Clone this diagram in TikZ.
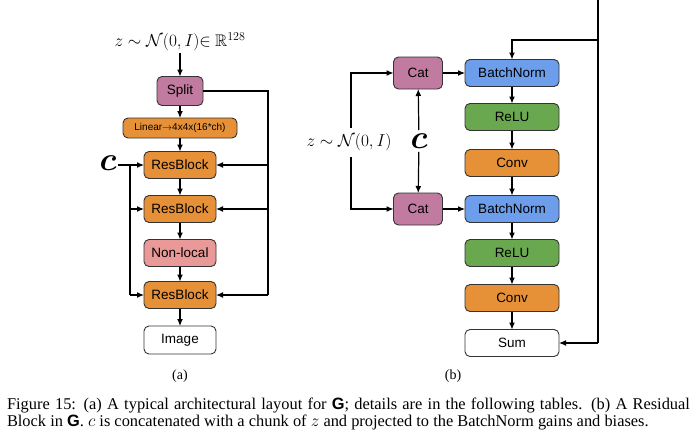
\documentclass[tikz,border=0pt]{standalone}
\usepackage{amsmath}
\usepackage{amsfonts}
\usepackage{fontspec}
\setmainfont{Liberation Serif}
\setsansfont{Liberation Sans}
\usetikzlibrary{shapes, arrows.meta}

\definecolor{catpink}{HTML}{C27BA0}
\definecolor{resorange}{HTML}{E69138}
\definecolor{nlred}{HTML}{EA9999}
\definecolor{bnblue}{HTML}{6D9EEB}
\definecolor{relugreen}{HTML}{6AA84F}
\definecolor{edgegray}{HTML}{333333}

\begin{document}
\begin{tikzpicture}[x=1pt, y=-1pt, line width=1.2pt, >={Latex[length=7pt,width=6pt]},
        blk/.style = {draw=edgegray, line width=0.9pt, rounded corners=5pt, inner sep=0pt, outer sep=0pt,
                      font=\sffamily\fontsize{13.5}{13.5}\selectfont, minimum width=72pt, minimum height=27pt},
        wide/.style = {blk, minimum width=94pt},
        lbl/.style = {inner sep=1pt}]
                \useasboundingbox (0, 0) rectangle (695, 440);

                % (a) generator layout
                \node[lbl] at (180, 42) (zin) {\fontsize{16.8}{16.8}\selectfont$z \sim \mathcal{N}(0,I) {\in}\ \mathbb{R}^{128}$};
                \node[blk, fill=catpink, minimum width=46pt, minimum height=29pt] at (180, 91) (split) {Split};
                \node[blk, fill=resorange, minimum width=114pt, minimum height=20pt, font=\sffamily\fontsize{10}{10}\selectfont] at (180, 128) (linear) {Linear$\rightarrow$4x4x(16*ch)};
                \node[blk, fill=resorange] at (180, 165) (rb1) {ResBlock};
                \node[blk, fill=resorange] at (180, 209) (rb2) {ResBlock};
                \node[blk, fill=nlred] at (180, 253) (nl) {Non-local};
                \node[blk, fill=resorange] at (180, 295) (rb3) {ResBlock};
                \node[blk, fill=white, minimum height=28pt] at (180, 340) (img) {Image};
                \node[lbl, font=\fontsize{14}{14}\selectfont] at (180, 376) (capa) {(a)};

                \node[lbl] at (108, 163) (cl) {\scalebox{3.3}{$\boldsymbol{c}$}};
                \coordinate (cbot) at (130, 295);
                \coordinate (sbot) at (268, 295);

                \draw [->] (zin) -- (split);
                \draw [->] (split) -- (linear);
                \draw [->] (linear) -- (rb1);
                \draw [->] (rb1) -- (rb2);
                \draw [->] (rb2) -- (nl);
                \draw [->] (nl) -- (rb3);
                \draw [->] (rb3) -- (img);

                \draw (split) -| (sbot);
                \draw [->] (rb1 -| sbot) -- (rb1);
                \draw [->] (rb2 -| sbot) -- (rb2);
                \draw [->] (sbot) -- (rb3);

                \draw [->] (cl.east |- rb1) -- (rb1);
                \draw (rb1 -| cbot) -- (cbot);
                \draw [->] (rb2 -| cbot) -- (rb2);
                \draw [->] (cbot) -- (rb3);

                % (b) residual block
                \node[blk, fill=catpink, minimum width=49pt, minimum height=32pt] at (418, 73) (cat1) {Cat};
                \node[blk, fill=catpink, minimum width=49pt, minimum height=32pt] at (418, 209) (cat2) {Cat};
                \node[wide, fill=bnblue] at (512, 73) (bn1) {BatchNorm};
                \node[wide, fill=relugreen] at (512, 117) (relu1) {ReLU};
                \node[wide, fill=resorange] at (512, 163) (conv1) {Conv};
                \node[wide, fill=bnblue] at (512, 209) (bn2) {BatchNorm};
                \node[wide, fill=relugreen] at (512, 253) (relu2) {ReLU};
                \node[wide, fill=resorange] at (512, 298) (conv2) {Conv};
                \node[wide, fill=white] at (512, 343) (sum) {Sum};
                \node[lbl, font=\fontsize{14}{14}\selectfont] at (453, 376) (capb) {(b)};

                \node[lbl] at (349, 142) (zr) {\fontsize{16.4}{16.4}\selectfont$z \sim \mathcal{N}(0,I)$};
                \node[lbl, inner sep=3pt] at (419, 141) (cr) {\scalebox{3.3}{$\boldsymbol{c}$}};
                \coordinate (zup) at (351, 128);
                \coordinate (zdn) at (351, 157);
                \coordinate (skip) at (598, 0);
                \coordinate (skipa) at (598, 40);
                \coordinate (skipb) at (598, 343);

                \draw [->] (zup) |- (cat1);
                \draw [->] (zdn) |- (cat2);
                \draw [->] (cr) -- (cat1);
                \draw [->] (cr) -- (cat2);
                \draw [->] (cat1) -- (bn1);
                \draw [->] (cat2) -- (bn2);

                \draw [->] (bn1) -- (relu1);
                \draw [->] (relu1) -- (conv1);
                \draw [->] (conv1) -- (bn2);
                \draw [->] (bn2) -- (relu2);
                \draw [->] (relu2) -- (conv2);
                \draw [->] (conv2) -- (sum);

                \draw (skip) -- (skipb);
                \draw [->] (skipa) -| (bn1);
                \draw [->] (skipb) -- (sum);

                % caption
                \node[inner sep=0pt, text width=683pt, align=justify, font=\fontsize{16.4}{17}\selectfont] at (348.5, 414) (cap)
                    {Figure 15: (a) A typical architectural layout for \textsf{\textbf{G}}; details are in the following tables. (b) A Residual\linebreak
                     Block in \textsf{\textbf{G}}. $c$ is concatenated with a chunk of $z$ and projected to the BatchNorm gains and biases.};
\end{tikzpicture}
\end{document}
